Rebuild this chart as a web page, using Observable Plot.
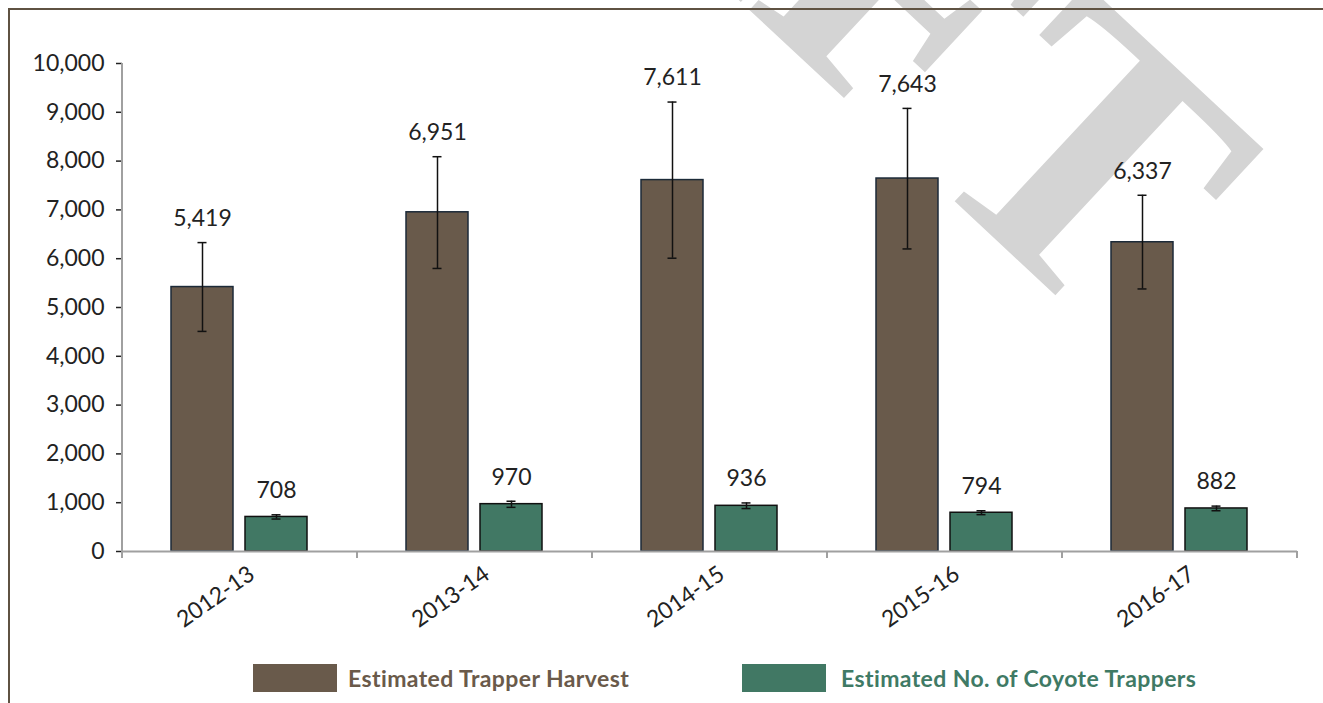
<!DOCTYPE html>
<html>
<head>
<meta charset="utf-8">
<script src="https://cdn.jsdelivr.net/npm/d3@7"></script>
<script src="https://cdn.jsdelivr.net/npm/@observablehq/plot@0.6"></script>
<style>
  html, body { margin: 0; padding: 0; background: #fff; }
  #wrap { position: relative; width: 1323px; height: 703px; overflow: hidden; background: #fff; }
  #wm { position: absolute; left: 0; top: 0; z-index: 0; }
  #chart { position: absolute; left: 0; top: 0; z-index: 1; }
  #frame { position: absolute; left: 8px; top: 8px; width: 1400px; height: 800px; z-index: 2;
           border-left: 2px solid #5f5242; border-top: 2px solid #5f5242; pointer-events: none; }
  #legend { position: absolute; left: 0; top: 0; z-index: 3; }
  .item { position: absolute; top: 664px; display: flex; align-items: center; height: 28px;
          font-family: Lato, sans-serif; font-weight: bold; font-size: 23px; letter-spacing: 0.4px; white-space: nowrap; }
  .sw { display: inline-block; width: 84px; height: 28px; }
</style>
</head>
<body>
<div id="wrap">
  <svg id="wm" width="1323" height="703">
    <text font-family="Liberation Serif" font-weight="bold" font-size="380" fill="#d4d4d4" text-anchor="end"
          transform="translate(1098,335) rotate(43)">DRAFT</text>
  </svg>
  <div id="chart"></div>
  <div id="frame"></div>
  <div id="legend"></div>
</div>
<script>
const years = ["2012-13", "2013-14", "2014-15", "2015-16", "2016-17"];
const seriesNames = ["Estimated Trapper Harvest", "Estimated No. of Coyote Trappers"];
const harvest = [5419, 6951, 7611, 7643, 6337];
const harvestLow = [4510, 5800, 6010, 6200, 5380];
const harvestHigh = [6330, 8090, 9210, 9080, 7300];
const trappers = [708, 970, 936, 794, 882];
const trappersLow = [665, 905, 880, 755, 835];
const trappersHigh = [752, 1030, 995, 835, 930];
const yTicks = [0, 1000, 2000, 3000, 4000, 5000, 6000, 7000, 8000, 9000, 10000];
const seriesColors = ["#695a4b", "#417864"];
const seriesStrokes = ["#1c2a38", "#111111"];
const legendTextColors = ["#6a5a4a", "#3f7a65"];

const data = years.flatMap((yr, i) => [
  {year: yr, series: seriesNames[0], value: harvest[i], lo: harvestLow[i], hi: harvestHigh[i]},
  {year: yr, series: seriesNames[1], value: trappers[i], lo: trappersLow[i], hi: trappersHigh[i]}
]);
const fmt = d3.format(",");

const barMarks = seriesNames.map((s, k) =>
  Plot.barY(data.filter(d => d.series === s), {
    fx: "year", x: "series", y: "value",
    fill: seriesColors[k], stroke: seriesStrokes[k], strokeWidth: 1.5
  })
);

const chart = Plot.plot({
  width: 1323,
  height: 640,
  marginTop: 63,
  marginRight: 26,
  marginBottom: 89,
  marginLeft: 122,
  style: {background: "transparent", fontFamily: "Lato, sans-serif", fontSize: "23px", color: "#222", overflow: "visible"},
  fx: {domain: years, padding: 0, axis: "bottom", label: null, tickSize: 0, tickPadding: 20, tickRotate: -35},
  x: {domain: seriesNames, paddingInner: 0.159, paddingOuter: 0.649, axis: null},
  y: {domain: [0, 10000], ticks: yTicks, tickFormat: fmt, label: null, tickSize: 6, tickPadding: 12},
  marks: [
    ...barMarks,
    Plot.ruleY([0], {stroke: "#a0a0a0", strokeWidth: 2}),
    Plot.ruleX(data, {fx: "year", x: "series", y1: "lo", y2: "hi", stroke: "#111", strokeWidth: 1.5}),
    Plot.tickY(data, {fx: "year", x: "series", y: "lo", stroke: "#111", strokeWidth: 1.5, insetLeft: 26.5, insetRight: 26.5}),
    Plot.tickY(data, {fx: "year", x: "series", y: "hi", stroke: "#111", strokeWidth: 1.5, insetLeft: 26.5, insetRight: 26.5}),
    Plot.text(data, {fx: "year", x: "series", y: "hi", text: d => fmt(d.value), dy: -24, fontSize: 23, fill: "#222"})
  ]
});

document.getElementById("chart").appendChild(chart);

// axis styling, axis line and category boundary ticks drawn from Plot's own scales
const svg = d3.select(chart.tagName.toLowerCase() === "svg" ? chart : chart.querySelector("svg"));
svg.selectAll('g[aria-label="y-axis tick"]').attr("stroke", "#a0a0a0").attr("stroke-width", 1.5);
svg.selectAll('g[aria-label="y-axis tick label"]').attr("fill", "#222");
svg.selectAll('g[aria-label="fx-axis tick label"]').each(function() {
  const g = d3.select(this);
  g.attr("transform", ((g.attr("transform") || "") + " translate(12,0)").trim());
});
const fxS = chart.scale("fx");
const yS = chart.scale("y");
const x0 = fxS.apply(years[0]);
svg.append("line")
  .attr("x1", x0).attr("x2", x0)
  .attr("y1", yS.apply(10000)).attr("y2", yS.apply(0))
  .attr("stroke", "#a0a0a0").attr("stroke-width", 2);
const bounds = years.map(v => fxS.apply(v)).concat([fxS.apply(years[years.length - 1]) + fxS.bandwidth]);
svg.append("g").selectAll("line").data(bounds).join("line")
  .attr("x1", d => d).attr("x2", d => d)
  .attr("y1", yS.apply(0)).attr("y2", yS.apply(0) + 7)
  .attr("stroke", "#a0a0a0").attr("stroke-width", 2);

// legend
const legend = d3.select("#legend");
const legendLefts = [253, 742];
const legendGaps = [11, 15];
seriesNames.forEach((s, k) => {
  const item = legend.append("div").attr("class", "item").style("left", legendLefts[k] + "px");
  item.append("span").attr("class", "sw").style("background", seriesColors[k]).style("margin-right", legendGaps[k] + "px");
  item.append("span").style("color", legendTextColors[k]).text(s);
});
</script>
</body>
</html>
